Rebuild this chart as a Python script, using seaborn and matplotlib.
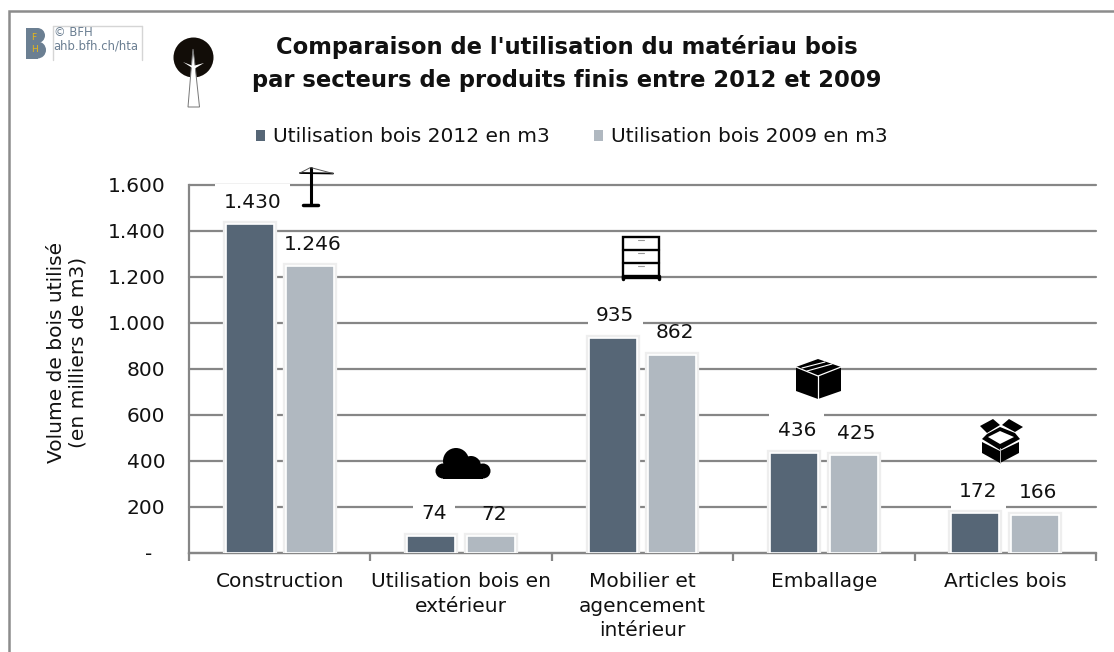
import pandas as pd
import matplotlib
matplotlib.use('Agg')
import matplotlib.pyplot as plt
import matplotlib.patheffects as pe
from matplotlib.patches import Circle, Polygon, Rectangle
import seaborn as sns

# Data
categories = ['Construction', 'Utilisation bois en\nextérieur', 'Mobilier et\nagencement\nintérieur',
              'Emballage', 'Articles bois']
values_2012 = [1430, 74, 935, 436, 172]
values_2009 = [1246, 72, 862, 425, 166]
labels_2012 = ['1.430', '74', '935', '436', '172']
labels_2009 = ['1.246', '72', '862', '425', '166']
series_names = ['Utilisation bois 2012 en m3', 'Utilisation bois 2009 en m3']
y_ticks = [0, 200, 400, 600, 800, 1000, 1200, 1400, 1600]
y_ticklabels = ['-  ', '200', '400', '600', '800', '1.000', '1.200', '1.400', '1.600']

df = pd.DataFrame({
    'cat': categories * 2,
    'val': values_2012 + values_2009,
    'serie': [series_names[0]] * 5 + [series_names[1]] * 5,
})

W, H = 1114, 652
GREY = '#868686'
sns.set_theme(style='white')
plt.rcParams['font.family'] = ['DejaVu Sans']

fig = plt.figure(figsize=(W / 100, H / 100), dpi=100, facecolor='white')
ax = fig.add_axes([189 / W, 1 - 553 / H, (1096 - 189) / W, (553 - 185) / H])

sns.barplot(data=df, x='cat', y='val', hue='serie', palette=['#566676', '#b0b8c0'],
            width=0.66, gap=0.2, ax=ax, saturation=1, edgecolor='white', linewidth=1.2, zorder=3)

# soft halo round the bars
for bar in ax.patches:
    bar.set_path_effects([pe.Stroke(linewidth=4.5, foreground='#eeeeee'), pe.Normal()])

ax.set_xlim(-0.5, 4.5)
ax.set_ylim(0, 1600)
ax.set_yticks(y_ticks)
ax.set_yticklabels(y_ticklabels, fontsize=14.5, color='#111111')
ax.grid(axis='y', color=GREY, linewidth=1.6, zorder=0)
for line in ax.get_ygridlines():
    line.set_clip_on(False)
ax.set_axisbelow(True)
ax.set_xlabel('')
ax.set_ylabel('Volume de bois utilisé\n(en milliers de m3)', fontsize=14.5, color='#111111',
              linespacing=1.1)
ax.yaxis.set_label_coords((87 - 189) / (1096 - 189), (553 - 352) / (553 - 185))

ax.set_xticks([0, 1, 2, 3, 4])
ax.set_xticklabels(categories, fontsize=14.5, color='#111111', linespacing=1.35)
ax.tick_params(axis='x', length=0, pad=14)
ax.tick_params(axis='y', length=7, width=1.6, color=GREY, pad=10)
# ticks between the categories
ax.set_xticks([-0.5, 0.5, 1.5, 2.5, 3.5, 4.5], minor=True)
ax.tick_params(axis='x', which='minor', length=6, width=1.6, color=GREY, bottom=True)
sns.despine(ax=ax, top=True, right=True)
for side in ['left', 'bottom']:
    ax.spines[side].set_color(GREY)
    ax.spines[side].set_linewidth(1.6)

# value labels, white box hides the gridline behind the 2012 ones
for idx, (vals, labs) in enumerate([(values_2012, labels_2012), (values_2009, labels_2009)]):
    for i, (v, lab) in enumerate(zip(vals, labs)):
        ax.annotate(lab, (i + (idx - 0.5) * 0.33, v), xytext=(2, 9), textcoords='offset points',
                    ha='center', va='bottom', fontsize=14.5, color='#111111', zorder=5,
                    bbox=dict(facecolor='white', edgecolor='none', pad=6,
                              alpha=1 if idx == 0 else 0), annotation_clip=False)

# legend on top
handles, leg_labels = ax.get_legend_handles_labels()
leg = ax.legend(handles, leg_labels, loc='center', bbox_to_anchor=(572 / W, 1 - 137 / H),
                bbox_transform=fig.transFigure, ncol=2, frameon=False, fontsize=14.5,
                handlelength=0.45, handleheight=0.45, handletextpad=0.4, columnspacing=2.2,
                labelcolor='#111111')
for p in leg.get_patches():
    p.set_path_effects([])
    p.set_edgecolor('none')

fig.text(567 / W, 1 - 47 / H, "Comparaison de l'utilisation du matériau bois", fontsize=16.3,
         fontweight='bold', ha='center', va='center', color='#111111')
fig.text(567 / W, 1 - 80 / H, 'par secteurs de produits finis entre 2012 et 2009', fontsize=16.3,
         fontweight='bold', ha='center', va='center', color='#111111')

# overlay in pixel coordinates for frame, logo and pictograms
ov = fig.add_axes([0, 0, 1, 1], zorder=10)
ov.set_xlim(0, W)
ov.set_ylim(H, 0)
ov.axis('off')
ov.patch.set_alpha(0)

# frame
ov.plot([9, 9, W], [H, 10.5, 10.5], color='#8c8c8c', lw=1.8, solid_joinstyle='miter')

# logo
LOGO = '#6b7f92'
ov.add_patch(Rectangle((26, 28), 12, 30.5, color=LOGO, lw=0))
ov.add_patch(Circle((37.5, 35.5), 7.5, color=LOGO, lw=0))
ov.add_patch(Circle((37.5, 50), 8.5, color=LOGO, lw=0))
ov.text(34, 38, 'F', fontsize=6.5, color='#e8b818', ha='center', va='center')
ov.text(34, 49, 'H', fontsize=6.5, color='#e8b818', ha='center', va='center')
ov.plot([53, 53], [26, 60], color='#d5d5d5', lw=1)
ov.plot([141.5, 141.5], [26, 60], color='#d5d5d5', lw=1)
ov.plot([53, 141.5], [26, 26], color='#d5d5d5', lw=1)
ov.text(53.5, 33, '© BFH', fontsize=8.4, color=LOGO, ha='left', va='center')
ov.text(53.5, 46, 'ahb.bfh.ch/hta', fontsize=8.4, color=LOGO, ha='left', va='center')

# tree
ov.add_patch(Circle((193.5, 57.5), 20, color='#120d08', lw=0))
ov.add_patch(Polygon([(188, 107), (199.5, 107), (195, 65), (193, 49), (191.5, 65)],
                     facecolor='white', edgecolor='#777777', lw=0.7))
ov.add_patch(Polygon([(183, 62), (193, 66), (204, 63), (194, 69)], facecolor='white', edgecolor='none'))

# crane
ov.plot([310.5, 310.5], [168, 205], color='black', lw=2.2)
ov.plot([303, 318], [205, 205], color='black', lw=2.5)
ov.plot([300, 333], [173, 173.5], color='black', lw=1.3)
ov.plot([300, 310.5, 333], [173, 167.5, 173.5], color='#555555', lw=0.7)

# cabinet
ov.add_patch(Rectangle((623, 237), 36, 41, facecolor='white', edgecolor='black', lw=1.7))
for yy in [250, 263, 276]:
    ov.plot([623, 659], [yy, yy], color='black', lw=1.7)
for yy in [240, 253, 266]:
    ov.plot([638, 644], [yy, yy], color='#999999', lw=0.8)
ov.plot([623, 623], [276, 279], color='black', lw=2.5)
ov.plot([659, 659], [276, 279], color='black', lw=2.5)

# cloud
for cx, cy, r in [(456, 461, 13), (471, 466, 10), (443, 471, 7.5), (483, 471, 7.5)]:
    ov.add_patch(Circle((cx, cy), r, color='black', lw=0))
ov.add_patch(Rectangle((443, 465), 40, 13.5, color='black', lw=0))

# closed box
ov.add_patch(Polygon([(796, 367), (818, 359), (841, 367), (841, 391), (818, 399), (796, 391)],
                     facecolor='black', edgecolor='none'))
ov.plot([796, 818, 841], [367, 376, 367], color='white', lw=0.9)
ov.plot([818, 818], [376, 399], color='white', lw=0.9)
ov.plot([802, 825], [368, 362], color='white', lw=0.8)
ov.plot([807, 832], [371, 364], color='white', lw=0.8)

# open box
ov.add_patch(Polygon([(980, 426), (993, 419), (1000, 425), (987, 433)], facecolor='black', edgecolor='none'))
ov.add_patch(Polygon([(1002, 425), (1009, 419), (1023, 427), (1015, 432)], facecolor='black', edgecolor='none'))
ov.add_patch(Polygon([(982, 439), (987, 434), (1000, 427), (1015, 433), (1020, 439), (1000, 450)],
                     facecolor='black', edgecolor='none'))
ov.add_patch(Polygon([(988, 437), (1000, 431), (1014, 437), (1000, 444)], facecolor='white', edgecolor='none'))
ov.add_patch(Polygon([(982, 442), (1000, 451), (1019, 442), (1019, 453), (1000, 463), (982, 453)],
                     facecolor='black', edgecolor='none'))
ov.plot([1000, 1000], [448, 463], color='#bbbbbb', lw=0.7)

fig.savefig('out.png', dpi=100, facecolor='white')
